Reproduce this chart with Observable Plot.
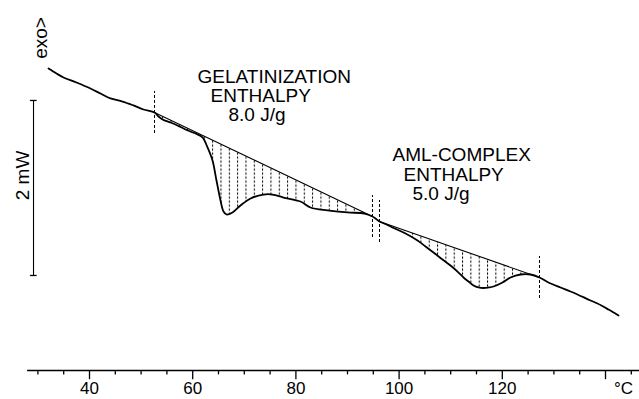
<!DOCTYPE html>
<html>
<head>
<meta charset="utf-8">
<script src="https://cdn.jsdelivr.net/npm/d3@7"></script>
<script src="https://cdn.jsdelivr.net/npm/@observablehq/plot@0.6"></script>
<style>
  html, body { margin: 0; padding: 0; background: #fff; }
  svg { display: block; }
</style>
</head>
<body>
<div id="chart"></div>
<script>
// DSC thermogram: temperature (°C) vs heat flow (mW, arbitrary offset)
const temperature = [
  32.05, 33.60, 34.96, 37.48, 40.19, 42.13, 44.07, 46.40, 48.53, 50.47, 52.60,
  53.37, 54.15, 55.70, 57.05, 58.22, 59.57, 60.74, 61.90, 62.87, 63.84, 64.61,
  65.39, 65.97, 66.55, 67.71, 69.26, 71.20, 73.72, 75.47, 77.60, 80.89, 82.83,
  86.12, 90.00, 93.29, 94.84,
  95.43, 96.20,
  97.56, 98.91, 101.24, 103.57, 105.12, 106.67, 108.41, 109.96, 111.32, 112.48,
  113.45, 114.42, 115.39, 116.36, 117.33, 118.29, 120.04, 121.59, 123.53, 125.47, 127.21,
  128.95, 131.28, 133.22, 134.57, 137.09, 138.45, 140.58, 142.52
];
const heatFlow = [
  3.451, 3.394, 3.349, 3.291, 3.223, 3.166, 3.109, 3.074, 3.029, 2.983, 2.949,
  2.903, 2.869, 2.834, 2.800, 2.766, 2.731, 2.703, 2.663, 2.549, 2.400, 2.171,
  1.943, 1.817, 1.783, 1.806, 1.886, 1.966, 2.011, 2.011, 1.977, 1.931, 1.863,
  1.829, 1.806, 1.794, 1.760,
  1.737, 1.703,
  1.669, 1.629, 1.566, 1.486, 1.417, 1.349, 1.269, 1.200, 1.131, 1.063,
  1.017, 0.971, 0.949, 0.943, 0.949, 0.960, 1.006, 1.063, 1.097, 1.097, 1.063,
  1.006, 0.949, 0.903, 0.869, 0.800, 0.766, 0.697, 0.629
];

// integration limits (°C)
const gelatinizationRange = [52.60, 94.84];
const complexRange = [96.20, 127.21];

// annotation texts
const gelatinizationLines = ["GELATINIZATION", "ENTHALPY", "8.0 J/g"];
const complexLines = ["AML-COMPLEX", "ENTHALPY", "5.0 J/g"];

// axis ticks
const majorTicks = [40, 60, 80, 100, 120, 140];
const majorTickLabels = ["40", "60", "80", "100", "120", ""];
const minorTicks = [30, 35, 45, 50, 55, 65, 70, 75, 85, 90, 95, 105, 110, 115, 125, 130, 135, 145];
const unitLabel = "°C";

// scale bar
const scaleBarValue = 2; // mW
const scaleBarLabel = "2 mW";
const exoLabel = "exo>";

const curve = temperature.map((t, i) => ({t, v: heatFlow[i]}));
const inRange = r => curve.filter(d => d.t >= r[0] - 1e-9 && d.t <= r[1] + 1e-9);
const gelPts = inRange(gelatinizationRange);
const amlPts = inRange(complexRange);
const markers = [gelPts[0], gelPts[gelPts.length - 1], amlPts[0], amlPts[amlPts.length - 1]];
const majors = majorTicks.map((t, i) => ({t, label: majorTickLabels[i]}));

const font = "'Liberation Sans', Arial, Helvetica, sans-serif";
const sbBottom = 1.086;

const svg = Plot.plot({
  width: 639,
  height: 399,
  marginLeft: 89,
  marginRight: 34,
  marginTop: 20,
  marginBottom: 29,
  x: {domain: [40, 140], axis: null},
  y: {domain: [0, 4], axis: null},
  style: {fontFamily: font, background: "#fff", color: "#000"},
  marks: [
    // hatched enthalpy areas (path closes along the straight baseline)
    Plot.line(gelPts, {x: "t", y: "v", fill: "url(#hatch)", stroke: "none", curve: "catmull-rom"}),
    Plot.line(amlPts, {x: "t", y: "v", fill: "url(#hatch)", stroke: "none", curve: "catmull-rom"}),
    // baselines
    Plot.line([gelPts[0], gelPts[gelPts.length - 1]], {x: "t", y: "v", stroke: "#000", strokeWidth: 1.1}),
    Plot.line([amlPts[0], amlPts[amlPts.length - 1]], {x: "t", y: "v", stroke: "#000", strokeWidth: 1.1}),
    // thermogram
    Plot.line(curve, {x: "t", y: "v", stroke: "#000", strokeWidth: 1.8, curve: "catmull-rom"}),
    // integration limit markers
    Plot.ruleX(markers, {x: "t", y1: d => d.v - 0.24, y2: d => d.v + 0.24, stroke: "#000", strokeWidth: 1, strokeDasharray: "3,2"}),
    // x axis
    Plot.ruleY([0], {x1: 28, x2: 147, stroke: "#000", strokeWidth: 1.5}),
    Plot.ruleX(minorTicks, {x: d => d, y1: 0, y2: -0.05, stroke: "#000", strokeWidth: 1.3}),
    Plot.ruleX(majors, {x: "t", y1: 0, y2: -0.105, stroke: "#000", strokeWidth: 1.3}),
    Plot.text(majors, {x: "t", y: -0.274, text: "label", fontSize: 17, textAnchor: "middle", lineAnchor: "bottom", fill: "#000"}),
    Plot.text([unitLabel], {x: 143.5, y: -0.274, text: d => d, fontSize: 17, textAnchor: "middle", lineAnchor: "bottom", fill: "#000"}),
    // scale bar
    Plot.ruleX([scaleBarValue], {x: 29.15, y1: sbBottom, y2: d => sbBottom + d, stroke: "#000", strokeWidth: 1.1}),
    Plot.ruleY([sbBottom, sbBottom + scaleBarValue], {y: d => d, x1: 28.55, x2: 29.85, stroke: "#000", strokeWidth: 1.3}),
    Plot.text([scaleBarLabel], {x: 28.18, y: 2.229, text: d => d, rotate: -90, fontSize: 19, textAnchor: "middle", lineAnchor: "bottom", fill: "#000"}),
    Plot.text([exoLabel], {x: 31.86, y: 3.80, text: d => d, rotate: -90, fontSize: 19, textAnchor: "middle", lineAnchor: "bottom", fill: "#000"}),
    // annotations
    Plot.text([gelatinizationLines[0]], {x: 60.93, y: 3.291, text: d => d, fontSize: 19, textAnchor: "start", lineAnchor: "bottom", fill: "#000"}),
    Plot.text([gelatinizationLines[1]], {x: 63.45, y: 3.063, text: d => d, fontSize: 19, textAnchor: "start", lineAnchor: "bottom", fill: "#000"}),
    Plot.text([gelatinizationLines[2]], {x: 66.94, y: 2.846, text: d => d, fontSize: 19, textAnchor: "start", lineAnchor: "bottom", fill: "#000"}),
    Plot.text([complexLines[0]], {x: 98.72, y: 2.400, text: d => d, fontSize: 19, textAnchor: "start", lineAnchor: "bottom", fill: "#000"}),
    Plot.text([complexLines[1]], {x: 100.85, y: 2.171, text: d => d, fontSize: 19, textAnchor: "start", lineAnchor: "bottom", fill: "#000"}),
    Plot.text([complexLines[2]], {x: 102.60, y: 1.954, text: d => d, fontSize: 19, textAnchor: "start", lineAnchor: "bottom", fill: "#000"})
  ]
});

const ns = "http://www.w3.org/2000/svg";
const defs = document.createElementNS(ns, "defs");
defs.innerHTML = '<pattern id="hatch" patternUnits="userSpaceOnUse" x="3.4" y="0" width="8.33" height="4">' +
  '<line x1="0.5" y1="0" x2="0.5" y2="2.2" stroke="#000" stroke-width="1"/></pattern>';
svg.insertBefore(defs, svg.firstChild);
document.getElementById("chart").appendChild(svg);
</script>
</body>
</html>
